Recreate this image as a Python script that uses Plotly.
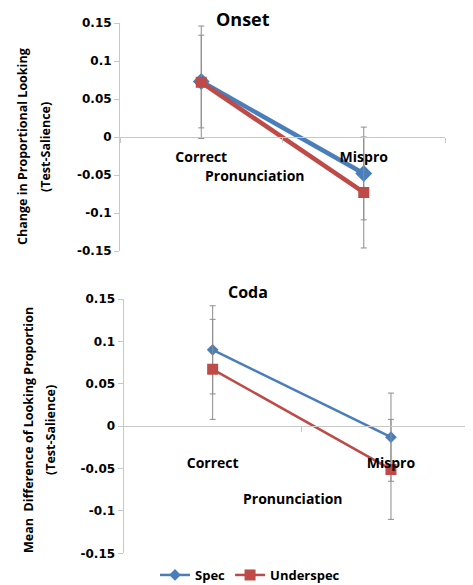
import plotly.graph_objects as go

categories = ["Correct", "Mispro"]
series_names = ["Spec", "Underspec"]

onset_spec = [0.073, -0.048]
onset_spec_err = [0.061, 0.061]
onset_under = [0.072, -0.073]
onset_under_err = [0.074, 0.073]

coda_spec = [0.090, -0.013]
coda_spec_err = [0.052, 0.052]
coda_under = [0.067, -0.051]
coda_under_err = [0.059, 0.059]

y_ticks = [0.15, 0.1, 0.05, 0, -0.05, -0.1, -0.15]
y_tick_text = ["0.15", "0.1", "0.05", "0", "-0.05", "-0.1", "-0.15"]

BLUE = "#4A7EBB"
RED = "#BE4B48"
ERR = "#8c8c8c"
AXIS = "#c8c8c8"
FONT = "Open Sans"
TICKFONT = "DejaVu Sans"

W, H = 473, 585
OFF = 8  # page body margin offset

def px_x(p):
    return (p - OFF) / W

def px_y(p):
    return 1 - (p - OFF) / H

top_xdom = [px_x(120), px_x(445)]
top_ydom = [px_y(251), px_y(23)]
bot_xdom = [px_x(123.5), px_x(473)]
bot_ydom = [px_y(553.3), px_y(299)]

fig = go.Figure()

def add_series(y, err, name, color, xa, ya, lw, sym, msize, show):
    fig.add_trace(go.Scatter(
        x=categories, y=y, name=name, mode="lines+markers",
        line=dict(color=color, width=lw),
        marker=dict(symbol=sym, size=msize, color=color),
        error_y=dict(type="data", array=err, visible=True, color=ERR,
                     thickness=1, width=3),
        xaxis=xa, yaxis=ya, showlegend=show, legendgroup=name,
    ))

add_series(onset_spec, onset_spec_err, series_names[0], BLUE, "x", "y", 4.5, "diamond", 13, False)
add_series(onset_under, onset_under_err, series_names[1], RED, "x", "y", 4.5, "square", 11, False)
add_series(coda_spec, coda_spec_err, series_names[0], BLUE, "x2", "y2", 2.5, "diamond", 9, True)
add_series(coda_under, coda_under_err, series_names[1], RED, "x2", "y2", 2.5, "square", 11, True)

ytickfont = dict(family=TICKFONT, size=12, color="#000000", weight="bold")
xtickfont = dict(family=FONT, size=14, color="#000000", weight="bold")

common_x = dict(type="category", categoryorder="array", categoryarray=categories,
                showline=True, linecolor=AXIS, linewidth=1, ticks="outside",
                tickson="boundaries", ticklen=5, tickcolor=AXIS, showgrid=False,
                zeroline=False, tickfont=xtickfont, anchor="free", fixedrange=True)
common_y = dict(range=[-0.15, 0.15], tickvals=y_ticks, ticktext=y_tick_text,
                showline=True, linecolor=AXIS, linewidth=1, ticks="outside",
                ticklen=5, tickcolor=AXIS, showgrid=False, zeroline=False,
                tickfont=ytickfont, fixedrange=True)

fig.update_layout(
    width=W, height=H,
    margin=dict(l=0, r=0, t=0, b=0, autoexpand=False),
    paper_bgcolor="white", plot_bgcolor="white",
    font=dict(family=FONT, color="#000000"),
    xaxis=dict(common_x, domain=top_xdom, range=[-0.5, 1.5],
               position=(top_ydom[0] + top_ydom[1]) / 2, ticklabelstandoff=7),
    yaxis=dict(common_y, domain=top_ydom, anchor="x"),
    xaxis2=dict(common_x, domain=bot_xdom, range=[-0.5, 1.46],
                position=(bot_ydom[0] + bot_ydom[1]) / 2, ticklabelstandoff=24),
    yaxis2=dict(common_y, domain=bot_ydom, anchor="x2"),
    legend=dict(orientation="h", x=px_x(250), xanchor="center", y=px_y(575),
                yanchor="middle", font=dict(family=FONT, size=13, weight="bold"),
                itemwidth=30, tracegroupgap=0, bgcolor="rgba(0,0,0,0)"),
)

annots = [
    dict(text="Onset", x=px_x(243), y=px_y(19), size=18),
    dict(text="Coda", x=px_x(248), y=px_y(292), size=16),
    dict(text="Pronunciation", x=px_x(255), y=px_y(175), size=14),
    dict(text="Pronunciation", x=px_x(293), y=px_y(498), size=14),
]
for a in annots:
    fig.add_annotation(text=a["text"], x=a["x"], y=a["y"], xref="paper", yref="paper",
                       showarrow=False, xanchor="center", yanchor="middle",
                       font=dict(family=FONT, size=a["size"], weight="bold", color="#000000"))

ytitles = [
    ("Change in Proportional Looking", px_x(22), px_y(147)),
    ("(Test-Salience)", px_x(45), px_y(147)),
    ("Mean  Difference of Looking Proportion", px_x(28), px_y(430)),
    ("(Test-Salience)", px_x(50), px_y(430)),
]
for t, x, y in ytitles:
    fig.add_annotation(text=t, x=x, y=y, xref="paper", yref="paper", showarrow=False,
                       textangle=-90, xanchor="center", yanchor="middle",
                       font=dict(family=FONT, size=12.5, weight="bold", color="#000000"))

fig.write_html("out.html")
